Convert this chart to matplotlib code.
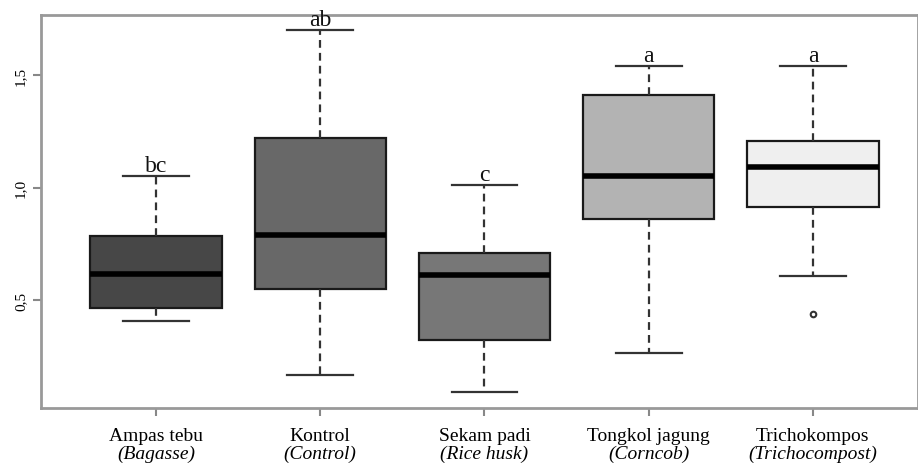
import numpy as np
import matplotlib.pyplot as plt

plt.rcParams['font.family'] = ['Liberation Serif', 'DejaVu Serif']

# ----- Data -----
groups = ["Ampas tebu", "Kontrol", "Sekam padi", "Tongkol jagung", "Trichokompos"]
groups_en = ["(Bagasse)", "(Control)", "(Rice husk)", "(Corncob)", "(Trichocompost)"]
whislo = [0.407, 0.168, 0.091, 0.264, 0.605]
q1 = [0.464, 0.549, 0.322, 0.860, 0.913]
med = [0.616, 0.787, 0.612, 1.051, 1.090]
q3 = [0.784, 1.220, 0.708, 1.411, 1.207]
whishi = [1.051, 1.700, 1.011, 1.540, 1.540]
outliers = [[], [], [], [], [0.438]]
letters = ["bc", "ab", "c", "a", "a"]
fills = ["#474747", "#686868", "#777777", "#b3b3b3", "#efefef"]

stats = []
for i in range(len(groups)):
    stats.append(dict(whislo=whislo[i], q1=q1[i], med=med[i], q3=q3[i],
                      whishi=whishi[i], fliers=outliers[i]))

fig = plt.figure(figsize=(9.18, 4.64), dpi=100)
ax = fig.add_axes([41/918, 55/464, 877/918, 393/464])

pos = np.arange(1, len(groups) + 1)
bp = ax.bxp(stats, positions=pos, widths=0.8, patch_artist=True,
            showfliers=True, capwidths=0.4,
            boxprops=dict(edgecolor='#1a1a1a', linewidth=1.6),
            medianprops=dict(color='black', linewidth=4, solid_capstyle='butt'),
            whiskerprops=dict(color='#333333', linewidth=1.6, linestyle=(0, (3.5, 2.3))),
            capprops=dict(color='#333333', linewidth=1.6),
            flierprops=dict(marker='o', markersize=4, markerfacecolor='none',
                            markeredgecolor='#333333', markeredgewidth=1.5))
for patch, c in zip(bp['boxes'], fills):
    patch.set_facecolor(c)

# letters above the whiskers
for i, t in enumerate(letters):
    ax.annotate(t, (pos[i], whishi[i]), xytext=(0, 0), textcoords='offset points',
                ha='center', va='bottom', fontsize=17, color='#111111')

ax.set_xlim(0.30, 5.64)
ax.set_ylim(0.02, 1.767)
ax.set_yticks([0.5, 1.0, 1.5])
ax.set_yticklabels(["0,5", "1,0", "1,5"], rotation=90, va='center', fontsize=11)
ax.set_xticks(pos)
ax.set_xticklabels([""] * len(groups))
ax.tick_params(axis='both', length=6, width=1.5, color='#888888', pad=3)
ax.tick_params(axis='y', pad=4)

for i in range(len(groups)):
    ax.annotate(groups[i], (pos[i], 0), xycoords=('data', 'axes fraction'),
                xytext=(0, -19.5), textcoords='offset points',
                ha='center', va='center', fontsize=14)
    ax.annotate(groups_en[i], (pos[i], 0), xycoords=('data', 'axes fraction'),
                xytext=(0, -32.5), textcoords='offset points',
                ha='center', va='center', fontsize=14, style='italic')

for s in ax.spines.values():
    s.set_color('#999999')
    s.set_linewidth(2)

fig.savefig("out.png", dpi=100)
